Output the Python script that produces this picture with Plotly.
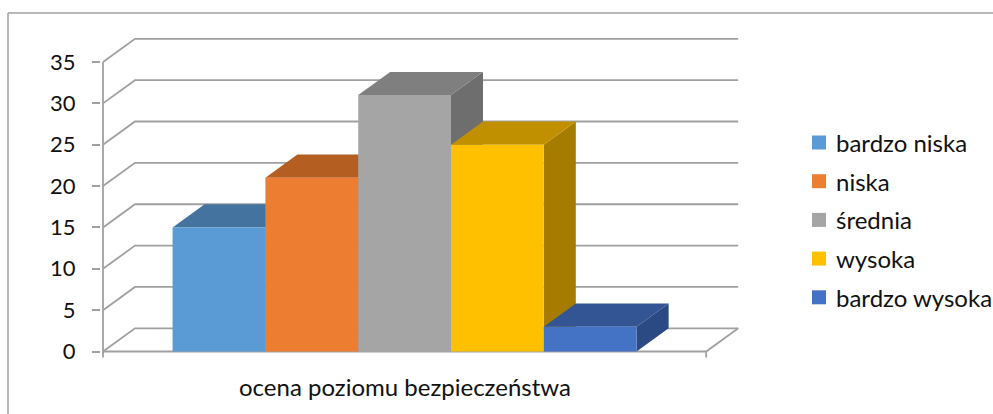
import plotly.graph_objects as go

# --- data -------------------------------------------------------------
categories = ["bardzo niska", "niska", "średnia", "wysoka", "bardzo wysoka"]
values = [15, 21, 31, 25, 3]
y_ticks = [0, 5, 10, 15, 20, 25, 30, 35]
axis_title = "ocena poziomu bezpieczeństwa"

# --- styling ------------------------------------------------------------
front_colors = ["#5B9BD5", "#ED7D31", "#A5A5A5", "#FFC000", "#4472C4"]
top_colors = ["#45739F", "#B55E22", "#7F7F7F", "#C09000", "#335594"]
side_colors = ["#3D6A93", "#A3541E", "#6E6E6E", "#A67C00", "#2B4A83"]
grid_color = "#A0A0A0"
text_color = "#111111"
font_family = "Lato, 'Noto Sans', sans-serif"

# --- page / projection geometry (pixels) ---------------------------------
W, H = 993, 414
M_L, M_R, M_T, M_B = 101, 233, 30, 54
X0_PX = 103.0        # front-left corner of the floor
PX_PER_X = 92.8      # width of one column
Y0_PX = 351.5        # value 0 on the front plane
PX_PER_Y = 8.271     # pixels per value unit
DEPTH_DX_PX, DEPTH_DY_PX = 32.0, 23.2   # oblique depth offset
GAP = 0.75           # gap (in column widths) on each side of the cluster

# legend block (pixels)
LEG_SWATCH_X, LEG_TEXT_X = 812, 834
LEG_Y0, LEG_STEP, LEG_SWATCH = 142.5, 38.7, 14

DX = DEPTH_DX_PX / PX_PER_X
DY = DEPTH_DY_PX / PX_PER_Y
plot_w = W - M_L - M_R
plot_h = H - M_T - M_B
x_range = [(M_L - X0_PX) / PX_PER_X, (W - M_R - X0_PX) / PX_PER_X]
y_range = [(Y0_PX - (H - M_B)) / PX_PER_Y, (Y0_PX - M_T) / PX_PER_Y]

n = len(values)
floor_w = n + 2 * GAP
tick_len = 6.0 / PX_PER_Y


def paper_x(px):
    return (px - M_L) / plot_w


def paper_y(py):
    return (H - M_B - py) / plot_h


fig = go.Figure()

# walls: gridlines on the side wall + back wall, the value axis and the floor
gx, gy = [], []
for v in y_ticks:
    gx += [0, DX, floor_w + DX, None]
    gy += [v, v + DY, v + DY, None]
gx += [0, 0, None]
gy += [-tick_len, y_ticks[-1], None]
gx += [0, floor_w, floor_w + DX, None]
gy += [0, 0, DY, None]
gx += [floor_w, floor_w, None]
gy += [0, -tick_len, None]
fig.add_trace(go.Scatter(
    x=gx, y=gy, mode="lines",
    line=dict(color=grid_color, width=1.8),
    hoverinfo="skip", showlegend=False,
))

# 3-D columns: side, top, then front face for each column, left to right
for i, (cat, v) in enumerate(zip(categories, values)):
    x0 = GAP + i
    x1 = x0 + 1
    faces = [
        ([x1, x1 + DX, x1 + DX, x1, x1], [0, DY, v + DY, v, 0], side_colors[i]),
        ([x0, x1, x1 + DX, x0 + DX, x0], [v, v, v + DY, v + DY, v], top_colors[i]),
        ([x0, x1, x1, x0, x0], [0, 0, v, v, 0], front_colors[i]),
    ]
    for fx, fy, col in faces:
        fig.add_trace(go.Scatter(
            x=fx, y=fy, mode="lines", fill="toself",
            fillcolor=col, line=dict(width=0, color=col),
            hoverinfo="skip", showlegend=False, name=cat,
        ))

# legend: colour swatch + label per category
for i, (cat, col) in enumerate(zip(categories, front_colors)):
    cy = LEG_Y0 + i * LEG_STEP
    fig.add_shape(
        type="rect", xref="paper", yref="paper",
        x0=paper_x(LEG_SWATCH_X), x1=paper_x(LEG_SWATCH_X + LEG_SWATCH),
        y0=paper_y(cy - LEG_SWATCH / 2), y1=paper_y(cy + LEG_SWATCH / 2),
        fillcolor=col, line=dict(width=0),
    )
    fig.add_annotation(
        text=cat, xref="paper", yref="paper",
        x=paper_x(LEG_TEXT_X), y=paper_y(cy), xanchor="left", yanchor="middle",
        showarrow=False, font=dict(size=24, color=text_color, family=font_family),
    )

fig.add_annotation(
    text=axis_title, xref="x", yref="paper",
    x=floor_w / 2, y=paper_y(386), xanchor="center", yanchor="middle",
    showarrow=False, font=dict(size=24, color=text_color, family=font_family),
)

# chart frame (left and top edges)
frame = dict(color="#A0A0A0", width=1.5)
fig.add_shape(type="line", xref="paper", yref="paper",
              x0=paper_x(8), x1=paper_x(8), y0=paper_y(13), y1=paper_y(H + 5), line=frame)
fig.add_shape(type="line", xref="paper", yref="paper",
              x0=paper_x(8), x1=paper_x(W + 5), y0=paper_y(13), y1=paper_y(13), line=frame)

fig.update_layout(
    width=W, height=H,
    margin=dict(l=M_L, r=M_R, t=M_T, b=M_B, pad=0),
    paper_bgcolor="white", plot_bgcolor="white",
    font=dict(family=font_family, color=text_color),
    showlegend=False,
    xaxis=dict(range=x_range, visible=False, fixedrange=True),
    yaxis=dict(
        range=y_range, tickvals=y_ticks, ticktext=[str(t) for t in y_ticks],
        showgrid=False, zeroline=False, showline=False,
        ticks="outside", ticklen=8, tickwidth=1.8, tickcolor=grid_color,
        ticklabelstandoff=12, tickfont=dict(size=22, color=text_color),
        fixedrange=True,
    ),
)

fig.write_html("out.html")
